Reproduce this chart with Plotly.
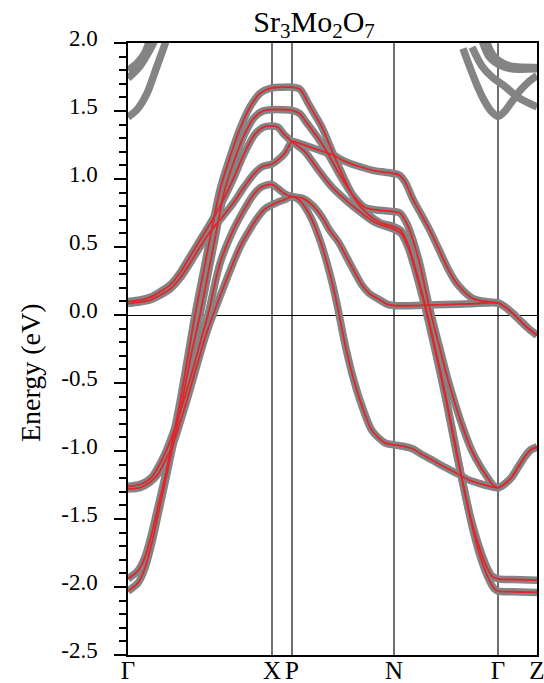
import plotly.graph_objects as go

# High-symmetry points along the k-path (path length units)
hs_k = [0.0, 1.44, 1.64, 2.66, 3.70, 4.09]
hs_labels = ["Γ", "X", "P", "N", "Γ", "Z"]

ytick_vals = [-2.5, -2.0, -1.5, -1.0, -0.5, 0.0, 0.5, 1.0, 1.5, 2.0]
ytick_text = ["-2.5", "-2.0", "-1.5", "-1.0", "-0.5", "0.0", "0.5", "1.0", "1.5", "2.0"]

# ---- DFT bands reproduced by the Wannier fit (gray + red) ----
band1_k = [0, 0.10, 0.17, 0.24, 0.30, 0.37, 0.45, 0.52, 0.60, 0.67, 0.75, 0.83, 0.92, 1.02, 1.12, 1.22, 1.32, 1.44,
           1.54, 1.64, 1.72, 1.80, 1.87, 1.94, 2.05, 2.17, 2.27, 2.40, 2.52, 2.66, 2.73, 2.80, 2.86, 2.92, 2.98, 3.04,
           3.12, 3.20, 3.28, 3.35, 3.43, 3.51, 3.58, 3.64, 3.70, 3.85, 4.09]
band1_e = [-1.94, -1.88, -1.78, -1.60, -1.41, -1.19, -0.90, -0.64, -0.30, 0.0, 0.30, 0.60, 0.92, 1.16, 1.37, 1.53, 1.63, 1.67,
           1.675, 1.675, 1.66, 1.56, 1.47, 1.38, 1.19, 0.99, 0.85, 0.74, 0.68, 0.65, 0.62, 0.52, 0.38, 0.22, 0.05, -0.14,
           -0.40, -0.68, -0.98, -1.24, -1.50, -1.70, -1.84, -1.92, -1.94, -1.945, -1.95]

band2_k = [0, 0.10, 0.17, 0.24, 0.30, 0.38, 0.46, 0.54, 0.63, 0.72, 0.80, 0.88, 0.96, 1.06, 1.16, 1.26, 1.35, 1.44,
           1.54, 1.64, 1.72, 1.77, 1.91, 2.02, 2.11, 2.24, 2.37, 2.52, 2.66, 2.72, 2.79, 2.85, 2.92, 3.00, 3.06, 3.12,
           3.19, 3.27, 3.35, 3.44, 3.52, 3.60, 3.65, 3.70, 3.77, 3.84, 3.90, 3.97, 4.03, 4.09]
band2_e = [-2.03, -1.97, -1.86, -1.67, -1.47, -1.20, -0.92, -0.64, -0.30, 0.0, 0.30, 0.60, 0.90, 1.13, 1.32, 1.45, 1.50, 1.51,
           1.51, 1.505, 1.48, 1.43, 1.29, 1.16, 1.04, 0.89, 0.79, 0.77, 0.76, 0.75, 0.67, 0.55, 0.37, 0.10, -0.08, -0.25,
           -0.45, -0.65, -0.83, -1.00, -1.11, -1.20, -1.25, -1.27, -1.24, -1.19, -1.12, -1.04, -0.99, -0.97]

band3_k = [0, 0.12, 0.22, 0.32, 0.42, 0.52, 0.62, 0.72, 0.82, 0.92, 1.04, 1.17, 1.27, 1.35, 1.44, 1.50, 1.57, 1.64,
           1.77, 1.90, 2.04, 2.17, 2.30, 2.47, 2.66, 2.73, 2.80, 2.86, 2.92, 2.98, 3.04, 3.12, 3.20, 3.28, 3.36, 3.44,
           3.52, 3.60, 3.66, 3.70, 3.85, 4.09]
band3_e = [0.10, 0.11, 0.13, 0.17, 0.22, 0.31, 0.43, 0.55, 0.67, 0.80, 0.98, 1.20, 1.33, 1.38, 1.39, 1.38, 1.32, 1.275,
           1.20, 1.07, 0.94, 0.85, 0.77, 0.68, 0.63, 0.60, 0.50, 0.36, 0.20, 0.03, -0.16, -0.42, -0.70, -1.00, -1.28, -1.55,
           -1.77, -1.93, -2.01, -2.03, -2.035, -2.04]

band4_k = [0, 0.12, 0.22, 0.32, 0.42, 0.52, 0.62, 0.72, 0.82, 0.92, 1.05, 1.15, 1.25, 1.34, 1.44, 1.50, 1.57, 1.64,
           1.72, 1.82, 1.92, 2.04, 2.17, 2.32, 2.47, 2.57, 2.66, 2.71, 2.77, 2.85, 2.94, 3.02, 3.11, 3.19, 3.27, 3.35,
           3.44, 3.52, 3.62, 3.70, 3.77, 3.85, 3.92, 3.99, 4.09]
band4_e = [0.085, 0.095, 0.11, 0.145, 0.19, 0.27, 0.38, 0.50, 0.61, 0.70, 0.82, 0.93, 1.03, 1.09, 1.11, 1.14, 1.19, 1.275,
           1.26, 1.235, 1.21, 1.18, 1.13, 1.09, 1.06, 1.05, 1.04, 1.03, 0.98, 0.85, 0.73, 0.62, 0.48, 0.355, 0.25, 0.18,
           0.125, 0.105, 0.095, 0.09, 0.06, 0.01, -0.04, -0.09, -0.15]

band5_k = [0, 0.10, 0.17, 0.24, 0.30, 0.37, 0.45, 0.52, 0.59, 0.66, 0.73, 0.80, 0.92, 1.05, 1.15, 1.25, 1.33, 1.44,
           1.50, 1.57, 1.64, 1.74, 1.84, 1.94, 2.02, 2.11, 2.19, 2.27, 2.34, 2.41, 2.52, 2.59, 2.66, 2.80, 2.97, 3.17,
           3.42, 3.70, 3.77, 3.85, 3.92, 3.99, 4.09]
band5_e = [-1.26, -1.25, -1.23, -1.19, -1.12, -1.02, -0.87, -0.72, -0.55, -0.37, -0.18, 0.0, 0.38, 0.62, 0.76, 0.88, 0.94, 0.96,
           0.93, 0.89, 0.87, 0.86, 0.81, 0.72, 0.62, 0.53, 0.42, 0.31, 0.22, 0.16, 0.11, 0.08, 0.07, 0.068, 0.072, 0.077,
           0.082, 0.088, 0.06, 0.01, -0.04, -0.09, -0.15]

band6_k = [0, 0.12, 0.22, 0.30, 0.38, 0.46, 0.53, 0.60, 0.67, 0.74, 0.80, 0.86, 0.99, 1.12, 1.22, 1.30, 1.37, 1.44,
           1.50, 1.57, 1.64, 1.72, 1.82, 1.92, 2.02, 2.09, 2.16, 2.24, 2.34, 2.44, 2.57, 2.66, 2.75, 2.85, 2.95, 3.05,
           3.17, 3.29, 3.40, 3.52, 3.62, 3.70, 3.77, 3.84, 3.90, 3.97, 4.03, 4.09]
band6_e = [-1.28, -1.27, -1.23, -1.17, -1.06, -0.93, -0.77, -0.60, -0.42, -0.24, -0.10, 0.02, 0.27, 0.50, 0.63, 0.72, 0.78, 0.81,
           0.83, 0.85, 0.87, 0.84, 0.73, 0.55, 0.30, 0.08, -0.18, -0.43, -0.67, -0.85, -0.94, -0.955, -0.965, -0.985, -1.03, -1.07,
           -1.12, -1.165, -1.21, -1.24, -1.26, -1.27, -1.24, -1.19, -1.12, -1.04, -0.99, -0.97]

# ---- higher DFT bands (gray only) ----
upper1_k = [0, 0.09, 0.19, 0.29, 0.35, 0.40]
upper1_e = [1.455, 1.51, 1.63, 1.83, 1.95, 2.06]
upper2_k = [0, 0.12, 0.22, 0.28]
upper2_e = [1.74, 1.83, 1.95, 2.04]
upper3_k = [0, 0.09, 0.17, 0.22]
upper3_e = [1.80, 1.85, 1.93, 2.03]
upper4_k = [3.35, 3.42, 3.49, 3.56, 3.63, 3.70, 3.77, 3.84, 3.92, 4.00, 4.09]
upper4_e = [1.96, 1.82, 1.69, 1.58, 1.50, 1.46, 1.50, 1.57, 1.65, 1.71, 1.76]
upper5_k = [3.44, 3.54, 3.64, 3.77, 3.90, 4.09]
upper5_e = [1.97, 1.83, 1.75, 1.68, 1.60, 1.53]
upper6_k = [3.54, 3.61, 3.71, 3.84, 4.09]
upper6_e = [2.02, 1.90, 1.84, 1.81, 1.81]
upper7_k = [3.58, 3.65, 3.75, 3.87, 4.09]
upper7_e = [2.02, 1.91, 1.85, 1.825, 1.82]

fitted = [(band1_k, band1_e), (band2_k, band2_e), (band3_k, band3_e),
          (band4_k, band4_e), (band5_k, band5_e), (band6_k, band6_e)]
extra = [(upper1_k, upper1_e), (upper2_k, upper2_e), (upper3_k, upper3_e),
         (upper4_k, upper4_e), (upper5_k, upper5_e), (upper6_k, upper6_e), (upper7_k, upper7_e)]

for k, e in fitted + extra:
    assert len(k) == len(e), (len(k), len(e))

GRAY = "#848484"
RED = "#e0262b"
FONT = "Liberation Serif, Times New Roman, serif"

fig = go.Figure()
for k, e in fitted + extra:
    fig.add_trace(go.Scatter(x=k, y=e, mode="lines",
                             line=dict(color=GRAY, width=7.5, shape="spline", smoothing=0.8),
                             hoverinfo="skip", showlegend=False))
for k, e in fitted:
    fig.add_trace(go.Scatter(x=k, y=e, mode="lines",
                             line=dict(color=RED, width=1.8, shape="spline", smoothing=0.8),
                             hoverinfo="skip", showlegend=False))

# vertical lines at interior high-symmetry points
for kv in hs_k[1:-1]:
    fig.add_shape(type="line", xref="x", yref="y", x0=kv, x1=kv, y0=-2.5, y1=2.0,
                  line=dict(color="#222222", width=1.3), layer="below")

fig.update_layout(
    width=544, height=683,
    margin=dict(l=128, r=7, t=43, b=28, autoexpand=False),
    paper_bgcolor="white", plot_bgcolor="white",
    font=dict(family=FONT, color="black"),
    title=dict(text="Sr<sub>3</sub>Mo<sub>2</sub>O<sub>7</sub>", xref="paper", x=0.455, xanchor="center",
               yref="container", y=1 - 21 / 683, yanchor="middle",
               font=dict(family=FONT, size=30, color="black")),
    showlegend=False,
)

fig.update_xaxes(range=[hs_k[0], hs_k[-1]], tickmode="array", tickvals=hs_k, ticktext=hs_labels,
                 ticks="", showgrid=False, zeroline=False, automargin=False,
                 ticklabelstandoff=-8, ticklabeloverflow="allow",
                 showline=True, linecolor="black", linewidth=1.5, mirror=True,
                 tickfont=dict(family=FONT, size=25, color="black"))

fig.update_yaxes(range=[-2.5, 2.0], tickmode="array", tickvals=ytick_vals, ticktext=ytick_text,
                 ticks="outside", ticklen=12, tickwidth=1.5, tickcolor="black",
                 minor=dict(tickmode="linear", tick0=0, dtick=0.1, ticks="outside", ticklen=7,
                            tickwidth=1.5, tickcolor="black", showgrid=False),
                 ticklabelstandoff=12, ticklabelshift=-5, automargin=False, ticklabeloverflow="allow",
                 showgrid=False, zeroline=True, zerolinecolor="black", zerolinewidth=1.3,
                 showline=True, linecolor="black", linewidth=1.5, mirror=True,
                 tickfont=dict(family=FONT, size=23, color="black"))

fig.add_annotation(text="Energy (eV)", xref="paper", yref="paper", x=-0.24, y=0.462,
                   textangle=-90, showarrow=False, xanchor="center", yanchor="middle",
                   font=dict(family=FONT, size=28, color="black"))

fig.write_html("out.html")
